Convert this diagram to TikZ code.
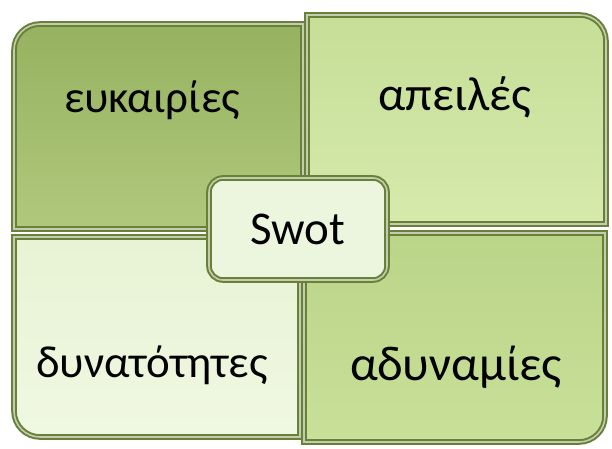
\documentclass[tikz,border=0pt]{standalone}
\usepackage{fontspec}
\setmainfont{Carlito}
\definecolor{edgegreen}{RGB}{104,128,56}
\definecolor{oppfill}{RGB}{150,178,96}
\definecolor{oppfillb}{RGB}{176,200,124}
\definecolor{thrfill}{RGB}{198,222,152}
\definecolor{thrfillb}{RGB}{214,234,172}
\definecolor{strfill}{RGB}{232,243,212}
\definecolor{strfillb}{RGB}{240,248,226}
\definecolor{weakfill}{RGB}{186,212,136}
\definecolor{weakfillb}{RGB}{200,224,152}
\definecolor{centrefill}{RGB}{236,245,222}
\begin{document}
\begin{tikzpicture}[x=1pt,y=-1pt,
    quad/.style={draw=edgegreen, line width=2pt, double=white!60!edgegreen, double distance=1.6pt},
    word/.style={inner sep=0pt, anchor=base}]
    \useasboundingbox (0,0) rectangle (612,448);
    % the four quadrants, outer corner rounded
    \path [quad, top color=oppfill, bottom color=oppfillb]
        (14,229) -- (14,50) arc[start angle=180, end angle=270, radius=26] -- (303,24) -- (303,229) -- cycle;
    \path [quad, top color=thrfill, bottom color=thrfillb]
        (307,224) -- (307,15) -- (580,15) arc[start angle=270, end angle=360, radius=26] -- (606,224) -- cycle;
    \path [quad, top color=strfill, bottom color=strfillb]
        (14,237) -- (300,237) -- (300,437) -- (40,437) arc[start angle=90, end angle=180, radius=26] -- cycle;
    \path [quad, top color=weakfill, bottom color=weakfillb]
        (304,233) -- (605,233) -- (605,416) arc[start angle=0, end angle=90, radius=26] -- (304,442) -- cycle;
    \node at (152,112) [word, font=\fontsize{45}{45}\selectfont] (opportunities) {ευκαιρίες};
    \node at (455,110) [word, font=\fontsize{48}{48}\selectfont] (threats) {απειλές};
    \node at (152,377) [word, font=\fontsize{45}{45}\selectfont] (strengths) {δυνατότητες};
    \node at (456,380) [word, font=\fontsize{49}{49}\selectfont] (weaknesses) {αδυναμίες};
    % centre box
    \node at (298,229) [quad, fill=centrefill, rounded corners=14pt, minimum width=178pt, minimum height=102pt,
        font=\fontsize{47}{47}\selectfont] (swot) {Swot};
\end{tikzpicture}
\end{document}
